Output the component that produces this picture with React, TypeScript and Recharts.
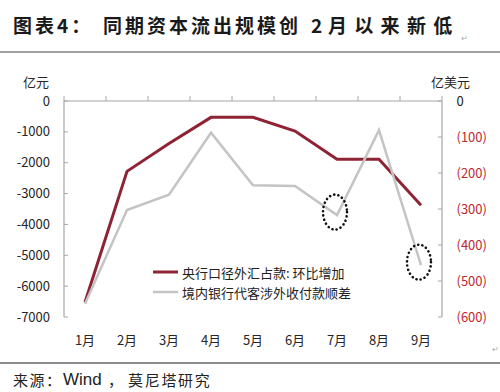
import React from 'react';
import { ComposedChart, Line, XAxis, YAxis, Legend, ReferenceDot } from 'recharts';

const months = ['1月', '2月', '3月', '4月', '5月', '6月', '7月', '8月', '9月'];
const pbocFxChange = [-6520, -2280, -1380, -530, -530, -975, -1890, -1890, -3380];
const bankFxNet = [-563, -303, -260, -88, -234, -236, -317, -81, -456];
const leftTicks = [0, -1000, -2000, -3000, -4000, -5000, -6000, -7000];
const rightTicks = [0, -100, -200, -300, -400, -500, -600];
const boundaryTicks = [0, 1, 2, 3, 4, 5, 6, 7, 8, 9];
const seriesNames = ['央行口径外汇占款: 环比增加', '境内银行代客涉外收付款顺差'];
const circledPoints = [
  { month: '7月', value: -317 },
  { month: '9月', value: -456 },
];

const data = months.map((m, i) => ({ month: m, idx: i, pboc: pbocFxChange[i], bank: bankFxNet[i] }));

const FONT = '"Noto Sans CJK SC", "Noto Sans", sans-serif';
const RED = '#8E2433';
const GRAY = '#C4C4C4';
const AXIS = '#A6A6A6';
const widths: Record<string, number> = { pboc: 3, bank: 2.5 };

const RightTick = (props: any) => {
  const { x, y, payload } = props;
  const v = payload.value;
  const label = v === 0 ? '0' : `(${-v})`;
  return (
    <text x={x} y={y} dy="0.355em" textAnchor="start" fontSize={13} fontFamily={FONT} fill={v === 0 ? '#222' : '#C0282D'}>
      {label}
    </text>
  );
};

const renderLegend = (props: any) => {
  const payload = [...(props.payload || [])].sort(
    (a: any, b: any) => seriesNames.indexOf(a.value) - seriesNames.indexOf(b.value)
  );
  return (
    <div style={{ fontFamily: FONT, fontSize: 13, color: '#222' }}>
      {payload.map((entry: any, i: number) => (
        <div key={i} style={{ display: 'flex', alignItems: 'center', height: 20, whiteSpace: 'nowrap' }}>
          <svg width={29} height={8} style={{ display: 'block' }}>
            <line x1={0} x2={25} y1={4} y2={4} stroke={entry.color} strokeWidth={widths[entry.dataKey] || 3} />
          </svg>
          <span>{entry.value}</span>
        </div>
      ))}
    </div>
  );
};

const Ellipse = (p: any) => (
  <ellipse
    cx={p.cx - 2}
    cy={p.cy - 3}
    rx={12}
    ry={17.5}
    fill="none"
    stroke="#111"
    strokeWidth={2.6}
    strokeDasharray="0.1 4.2"
    strokeLinecap="round"
  />
);

const pilcrow: React.CSSProperties = { position: 'absolute', fontSize: 8, lineHeight: '8px', color: '#aaa', fontFamily: FONT };

export default function App() {
  return (
    <div style={{ position: 'absolute', left: 0, top: 0, width: 500, height: 392, background: '#fff', overflow: 'hidden' }}>
      <div style={{ position: 'absolute', left: 13, top: 15, fontFamily: FONT, fontWeight: 700, fontSize: 19, lineHeight: '20px', color: '#1a1a1a', whiteSpace: 'nowrap' }}>
        <span style={{ position: 'absolute', left: 0, letterSpacing: 3 }}>图表4：</span>
        <span style={{ position: 'absolute', left: 90, letterSpacing: 3 }}>同期资本流出规模创</span>
        <span style={{ position: 'absolute', left: 298 }}>2</span>
        <span style={{ position: 'absolute', left: 315 }}>
          <span style={{ letterSpacing: 7.3 }}>月以来新</span>低
        </span>
      </div>
      <div style={{ ...pilcrow, left: 461, top: 34 }}>↵</div>
      <div style={{ position: 'absolute', left: 0, top: 51, width: 500, height: 2, background: '#A0A0A0' }} />

      <ComposedChart
        width={500}
        height={392}
        data={data}
        margin={{ top: 100, right: 0, bottom: 45, left: 0 }}
        style={{ position: 'absolute', left: 0, top: 0 }}
      >
        <XAxis
          xAxisId="top"
          type="number"
          dataKey="idx"
          orientation="top"
          domain={[0, 9]}
          ticks={boundaryTicks}
          interval={0}
          allowDataOverflow
          height={1}
          tickSize={5}
          tickFormatter={() => ''}
          axisLine={{ stroke: AXIS, strokeWidth: 1.2 }}
          tickLine={{ stroke: AXIS }}
        />
        <XAxis
          xAxisId="cat"
          dataKey="month"
          orientation="bottom"
          scale="band"
          height={30}
          interval={0}
          axisLine={false}
          tickLine={false}
          tickSize={0}
          tickMargin={19}
          tick={{ fontSize: 13, fill: '#262626', fontFamily: FONT }}
        />
        <YAxis
          yAxisId="left"
          orientation="left"
          width={64}
          domain={[-7000, 0]}
          ticks={leftTicks}
          interval={0}
          allowDataOverflow
          tickSize={-4}
          tickMargin={18}
          axisLine={{ stroke: AXIS, strokeWidth: 1.2 }}
          tickLine={{ stroke: AXIS }}
          tick={{ fontSize: 13, fill: '#262626', fontFamily: FONT }}
        />
        <YAxis
          yAxisId="right"
          orientation="right"
          width={58}
          domain={[-600, 0]}
          ticks={rightTicks}
          interval={0}
          allowDataOverflow
          tickSize={-4}
          tickMargin={18.5}
          axisLine={{ stroke: AXIS, strokeWidth: 1.2 }}
          tickLine={{ stroke: AXIS }}
          tick={<RightTick />}
        />
        <Line
          xAxisId="cat"
          yAxisId="left"
          dataKey="pboc"
          name={seriesNames[0]}
          stroke={RED}
          strokeWidth={3}
          dot={false}
          activeDot={false}
          isAnimationActive={false}
        />
        <Line
          xAxisId="cat"
          yAxisId="right"
          dataKey="bank"
          name={seriesNames[1]}
          stroke={GRAY}
          strokeWidth={2.5}
          dot={false}
          activeDot={false}
          isAnimationActive={false}
        />
        {circledPoints.map((c) => (
          <ReferenceDot
            key={c.month}
            xAxisId="cat"
            yAxisId="right"
            x={c.month}
            y={c.value}
            ifOverflow="visible"
            shape={Ellipse}
          />
        ))}
        <Legend
          layout="vertical"
          verticalAlign="middle"
          align="center"
          content={renderLegend}
          wrapperStyle={{ position: 'absolute', left: 153, top: 262, width: 240, height: 40 }}
        />
      </ComposedChart>

      <div style={{ position: 'absolute', left: 23, top: 75, fontFamily: FONT, fontSize: 13, lineHeight: '14px', color: '#262626' }}>亿元</div>
      <div style={{ position: 'absolute', left: 431, top: 75, fontFamily: FONT, fontSize: 13, lineHeight: '14px', color: '#262626' }}>亿美元</div>

      <div style={{ ...pilcrow, left: 492, top: 345 }}>↵</div>
      <div style={{ position: 'absolute', left: 0, top: 362, width: 500, height: 2, background: '#8C8C8C' }} />
      <div style={{ position: 'absolute', left: 0, top: 370, width: 500, height: 20, fontFamily: FONT, fontSize: 15, lineHeight: '20px', color: '#222', whiteSpace: 'nowrap' }}>
        <span style={{ position: 'absolute', left: 13, letterSpacing: 1.5 }}>来源：</span>
        <span style={{ position: 'absolute', left: 63, fontFamily: '"Liberation Sans", Arial, sans-serif', fontSize: 17 }}>Wind</span>
        <span style={{ position: 'absolute', left: 108 }}>，</span>
        <span style={{ position: 'absolute', left: 128, letterSpacing: 1.7 }}>莫尼塔研究</span>
      </div>
    </div>
  );
}
